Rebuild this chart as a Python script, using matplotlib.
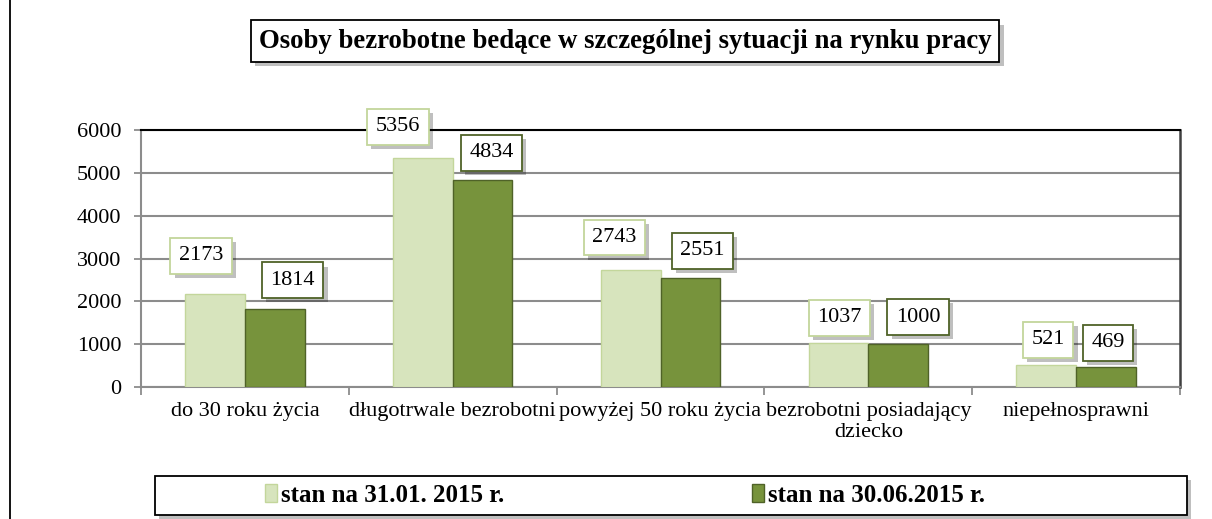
import numpy as np
import matplotlib
matplotlib.use("Agg")
import matplotlib.pyplot as plt
import matplotlib.patheffects as pe
from matplotlib.patches import Rectangle

plt.rcParams["font.family"] = ["Liberation Serif", "DejaVu Serif"]

categories = ["do 30 roku życia", "długotrwale bezrobotni", "powyżej 50 roku życia",
              "bezrobotni posiadający\ndziecko", "niepełnosprawni"]
series_names = ["stan na 31.01. 2015 r.", "stan na 30.06.2015 r."]
jan_values = [2173, 5356, 2743, 1037, 521]
jun_values = [1814, 4834, 2551, 1000, 469]
title = "Osoby bezrobotne bedące w szczególnej sytuacji na rynku pracy"

# manual label nudges (pixels: right, up) as placed in the original
jan_offsets = [(-14, 38), (-25, 31), (-16, 32), (1, 25), (2, 25)]
jun_offsets = [(18, 29), (9, 27), (12, 27), (20, 27), (2, 24)]

LIGHT, LIGHT_EDGE = "#D7E4BD", "#C3D69B"
DARK, DARK_EDGE = "#77933C", "#4F6228"
GRID = "#8C8C8C"
shadow = [pe.SimplePatchShadow(offset=(3, -3), shadow_rgbFace="#000000", alpha=0.25), pe.Normal()]

W, H = 1212, 519
fig = plt.figure(figsize=(W / 100, H / 100), dpi=100)
ax = fig.add_axes([141 / W, 1 - 387 / H, (1180 - 141) / W, (387 - 130) / H])

x = np.arange(len(categories))
bw = 0.287
ax.bar(x - bw / 2, jan_values, bw, color=LIGHT, edgecolor=LIGHT_EDGE, lw=1, zorder=3)
ax.bar(x + bw / 2, jun_values, bw, color=DARK, edgecolor=DARK_EDGE, lw=1, zorder=3)

px = 0.72  # px -> points at dpi 100
for vals, offs, shift, edge in [(jan_values, jan_offsets, -bw / 2, LIGHT_EDGE),
                                (jun_values, jun_offsets, bw / 2, DARK_EDGE)]:
    for xi, v, (dx, dy) in zip(x, vals, offs):
        t = ax.annotate(f"{v}", (xi + shift, v), xytext=(dx * px, dy * px),
                        textcoords="offset points", ha="center", va="center",
                        fontsize=16, zorder=5,
                        bbox=dict(boxstyle="square,pad=0.38", fc="white", ec=edge, lw=1.3))
        t.get_bbox_patch().set_path_effects(shadow)

ax.set_xlim(-0.5, len(categories) - 0.5)
ax.set_ylim(0, 6000)
ax.set_yticks(range(0, 6001, 1000))
ax.yaxis.grid(True, color=GRID, lw=1.5, zorder=0)
ax.set_axisbelow(True)
ax.set_xticks(x)
ax.set_xticklabels(categories, fontsize=16, linespacing=1.15)
ax.set_xticks(np.arange(-0.5, len(categories), 1), minor=True)
ax.tick_params(axis="x", which="major", length=0, pad=11)
ax.tick_params(axis="x", which="minor", length=6, color=GRID, width=1.3)
ax.tick_params(axis="y", length=5, color=GRID, width=1.3, labelsize=16, pad=9)
for s in ["left", "bottom"]:
    ax.spines[s].set_color(GRID)
    ax.spines[s].set_linewidth(1.5)
ax.spines["top"].set_color("black")
ax.spines["top"].set_linewidth(1.5)
ax.spines["right"].set_color("#404040")
ax.spines["right"].set_linewidth(1.8)

# outer chart frame (right/bottom edges fall outside the picture)
fig.patches.append(Rectangle((10 / W, -0.2), 1.2, 1.2 + (1 - 9 / H), transform=fig.transFigure,
                             fill=False, ec="black", lw=1.3, clip_on=False))

tt = fig.text(625 / W, 1 - 41 / H, title, ha="center", va="center", fontsize=19.3,
              fontweight="bold",
              bbox=dict(boxstyle="square,pad=0.3", fc="white", ec="black", lw=1.3))
tt.get_bbox_patch().set_path_effects(shadow)

# legend box
box = Rectangle((155 / W, 1 - 515 / H), (1187 - 155) / W, 39 / H, transform=fig.transFigure,
                fc="white", ec="black", lw=1.3)
box.set_path_effects(shadow)
fig.patches.append(box)
handles = [Rectangle((0, 0), 1, 1, fc=LIGHT, ec=LIGHT_EDGE), Rectangle((0, 0), 1, 1, fc=DARK, ec=DARK_EDGE)]
fig.legend(handles, series_names, loc="center", bbox_to_anchor=(625 / W, 1 - 495 / H), ncol=2,
           frameon=False, prop=dict(size=18, weight="bold"), handlelength=0.5, handleheight=0.75,
           handletextpad=0.15, columnspacing=9.9)

fig.savefig("out.png", dpi=100)
